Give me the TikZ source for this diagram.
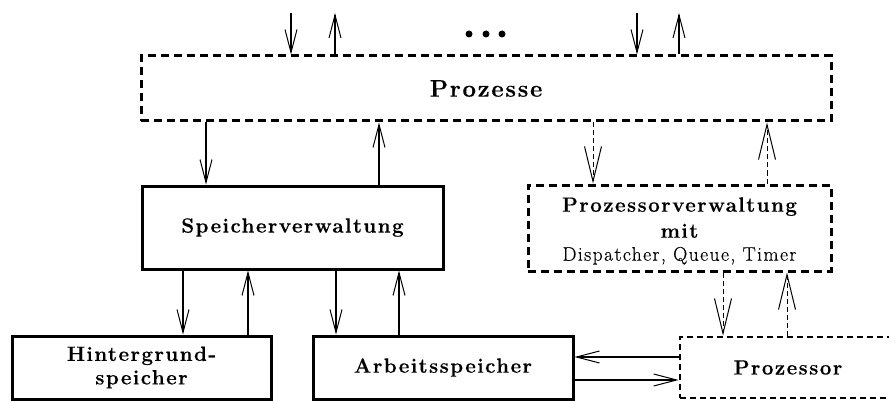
\documentclass[tikz,border=0pt]{standalone}
\usepackage{fontspec}
\setmainfont{Latin Modern Roman}[LetterSpace=7, BoldFeatures={FakeBold=0.3}]
\newfontfamily\notefont{Latin Modern Roman}[LetterSpace=7, FakeBold=0.3]
\usetikzlibrary{arrows.meta}

\begin{document}
\begin{tikzpicture}[x=1pt,y=-1pt,
  lbl/.style={font=\bfseries\fontsize{20.6}{23}\selectfont},
  box/.style={draw, line width=3pt, inner sep=0pt, align=center, lbl},
  dbox/.style={box, dash pattern=on 8pt off 5pt},
  pbox/.style={box, line width=2.8pt, dash pattern=on 6pt off 4pt},
  arr/.style={-{Straight Barb[length=23pt,width=12pt,line width=1pt]}, line width=2pt},
  tarr/.style={arr, line width=2.8pt},
  darr/.style={-{Straight Barb[length=35pt,width=17pt,line width=1pt]},
               line width=1pt, dash pattern=on 5pt off 3pt},
  dot/.style={circle, fill, inner sep=0pt, minimum size=7pt}
]
\useasboundingbox (0,0) rectangle (889,401);

% boxes
\node[dbox, minimum width=690pt, minimum height=65pt,
      font=\bfseries\fontsize{24}{26}\selectfont] (proz) at (486,88.5) {Prozesse};
\node[box, minimum width=301pt, minimum height=83pt] (sv) at (292.5,227.5) {Speicherverwaltung};
\node[dbox, minimum width=303pt, minimum height=86pt] (pv) at (679.5,228) {};
\node[lbl, align=center, inner sep=0pt] (pvt) at ([yshift=-3pt]pv.center)
  {Prozessorverwaltung\\[3pt] mit\\[0pt]
   \notefont\mdseries\fontsize{19.7}{21}\selectfont Dispatcher, Queue, Timer};
\node[box, minimum width=259pt, minimum height=63pt,
      font=\bfseries\fontsize{20.6}{23.5}\selectfont] (hg) at (141.5,367.5) {Hintergrund-\\ speicher};
\node[box, minimum width=260pt, minimum height=63pt] (as) at (443,367.5) {Arbeitsspeicher};
\node[pbox, minimum width=216pt, minimum height=61pt] (pr) at (788,367.5) {Prozessor};

% free ends of the top arrows and the dots between them
\coordinate (t1) at (291,13);
\coordinate (t2) at (335,13);
\coordinate (t3) at (637,13);
\coordinate (t4) at (679,13);
\node[dot] (d1) at (469,34) {};
\node[dot] (d2) at (486,34) {};
\node[dot] (d3) at (502,34) {};

% columns and rows of the connectors
\coordinate (c1) at (206,0);
\coordinate (c2) at (379,0);
\coordinate (c3) at (183,0);
\coordinate (c4) at (248,0);
\coordinate (c5) at (336,0);
\coordinate (c6) at (399,0);
\coordinate (c7) at (593,0);
\coordinate (c8) at (767,0);
\coordinate (c9) at (723,0);
\coordinate (c10) at (787,0);
\coordinate (r1) at (0,357);
\coordinate (r2) at (0,380);

% into and out of the processes
\draw[tarr] (t1) -- (proz.north -| t1);
\draw[tarr] (proz.north -| t2) -- (t2);
\draw[tarr] (t3) -- (proz.north -| t3);
\draw[tarr] (proz.north -| t4) -- (t4);

% memory management
\draw[arr] (proz.south -| c1) -- (sv.north -| c1);
\draw[arr] (sv.north -| c2) -- (proz.south -| c2);
\draw[arr] (sv.south -| c3) -- (hg.north -| c3);
\draw[arr] (hg.north -| c4) -- (sv.south -| c4);
\draw[arr] (sv.south -| c5) -- (as.north -| c5);
\draw[arr] (as.north -| c6) -- (sv.south -| c6);

% processor management
\draw[darr] (proz.south -| c7) -- (pv.north -| c7);
\draw[darr] (pv.north -| c8) -- (proz.south -| c8);
\draw[darr] (pv.south -| c9) -- (pr.north -| c9);
\draw[darr] (pr.north -| c10) -- (pv.south -| c10);

% main memory and processor
\draw[arr] (pr.west |- r1) -- (as.east |- r1);
\draw[arr] (as.east |- r2) -- (pr.west |- r2);
\end{tikzpicture}
\end{document}
